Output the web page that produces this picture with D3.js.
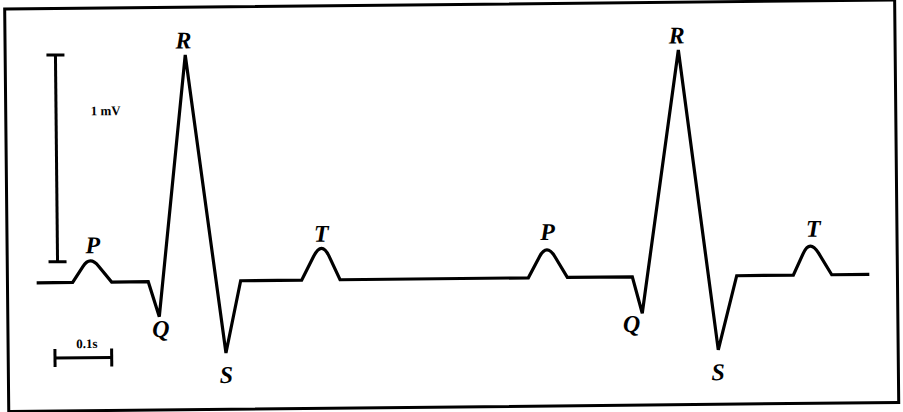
<!DOCTYPE html>
<html>
<head>
<meta charset="utf-8">
<script src="https://cdn.jsdelivr.net/npm/d3@7"></script>
<style>
  html, body { margin: 0; padding: 0; background: #fff; }
  svg { display: block; }
  .wave-label { font-family: "Liberation Serif", "Times New Roman", serif; font-weight: bold; font-style: italic; font-size: 24px; }
  .scale-label { font-family: "Liberation Serif", "Times New Roman", serif; font-weight: bold; font-size: 13px; }
</style>
</head>
<body>
<div id="chart"></div>
<script>
// ------------------------------------------------------------
//  Data (time in s, potential in mV)
// ------------------------------------------------------------

// sharp corners of the trace
const knotTime = [0, 0.0635, 0.1323, 0.1968, 0.2157, 0.2661, 0.3326, 0.3598, 0.4674, 0.5351,
                  0.8672, 0.9360, 1.0506, 1.0675, 1.1358, 1.2009, 1.2347, 1.3346, 1.4023, 1.4686];
const knotMv   = [0, 0, 0, 0, -0.170, 1.095, -0.349, 0, 0, 0,
                  0, 0, 0, -0.177, 1.095, -0.358, 0, 0, 0, 0];

// rounded P / T humps
const humpStart = [0.0635, 0.4674, 0.8672, 1.3346];
const humpPeak  = [0.0945, 0.5034, 0.9002, 1.3644];
const humpEnd   = [0.1323, 0.5351, 0.9360, 1.4023];
const humpMv    = [0.103, 0.153, 0.134, 0.140];

// wave letters
const labelText = ['P', 'Q', 'R', 'S', 'T', 'P', 'Q', 'R', 'S', 'T'];
const labelTime = [0.0998, 0.218, 0.263, 0.333, 0.503, 0.902, 1.0485, 1.133, 1.200, 1.3706];
const labelMv   = [0.141, -0.268, 1.127, -0.494, 0.185, 0.182, -0.267, 1.127, -0.504, 0.185];

// calibration bars
const voltBar = { time: 0.0372, from: 0.101, to: 1.101, text: '1 mV', textTime: 0.1249, textMv: 0.808 };
const timeBar = { mv: -0.365, from: 0.031, to: 0.131, text: '0.1s', textTime: 0.0873, textMv: -0.318 };

// ------------------------------------------------------------
//  Drawing
// ------------------------------------------------------------

const width = 903, height = 412;
const tilt = -0.58; // the scanned figure sits slightly rotated

const svg = d3.select('#chart').append('svg')
  .attr('width', width)
  .attr('height', height);

const g = svg.append('g').attr('transform', `rotate(${tilt},452,206)`);

const x = d3.scaleLinear().domain([0, 1.5]).range([35.9, 886.4]);
const y = d3.scaleLinear().domain([0, 1]).range([278.6, 71.9]);

// frame
g.append('rect')
  .attr('x', 6.7).attr('y', 4.5)
  .attr('width', 890).attr('height', 402.5)
  .attr('fill', 'none')
  .attr('stroke', '#000')
  .attr('stroke-width', 3);

// trace
const shoulder = 0.6;
const p = d3.path();
p.moveTo(x(knotTime[0]), y(knotMv[0]));
for (let i = 1; i < knotTime.length; i++) {
  const j = humpStart.indexOf(knotTime[i - 1]);
  if (j < 0) {
    p.lineTo(x(knotTime[i]), y(knotMv[i]));
    continue;
  }
  const x0 = x(humpStart[j]), x1 = x(humpEnd[j]), y0 = y(0);
  const apexX = x(humpPeak[j]);
  const apexY = y(2 * humpMv[j] / (1 + shoulder));
  p.lineTo(x0 + shoulder * (apexX - x0), y0 + shoulder * (apexY - y0));
  p.quadraticCurveTo(apexX, apexY, x1 + shoulder * (apexX - x1), y0 + shoulder * (apexY - y0));
  p.lineTo(x1, y0);
  if (knotTime[i] !== humpEnd[j]) p.lineTo(x(knotTime[i]), y(knotMv[i]));
}

g.append('path')
  .attr('d', p.toString())
  .attr('fill', 'none')
  .attr('stroke', '#000')
  .attr('stroke-width', 3.2);

// letters
g.selectAll('.wave-label')
  .data(labelText)
  .join('text')
  .attr('class', 'wave-label')
  .attr('x', (d, i) => x(labelTime[i]))
  .attr('y', (d, i) => y(labelMv[i]))
  .attr('text-anchor', 'middle')
  .text(d => d);

// 1 mV bar
const vx = x(voltBar.time);
const cap = 9;
const bars = g.append('g').attr('stroke', '#000').attr('stroke-width', 3);
bars.append('line').attr('x1', vx).attr('x2', vx).attr('y1', y(voltBar.from)).attr('y2', y(voltBar.to));
bars.append('line').attr('x1', vx - cap).attr('x2', vx + cap).attr('y1', y(voltBar.from)).attr('y2', y(voltBar.from));
bars.append('line').attr('x1', vx - cap).attr('x2', vx + cap).attr('y1', y(voltBar.to)).attr('y2', y(voltBar.to));

// 0.1 s bar
const ty = y(timeBar.mv);
bars.append('line').attr('x1', x(timeBar.from)).attr('x2', x(timeBar.to)).attr('y1', ty).attr('y2', ty);
bars.append('line').attr('x1', x(timeBar.from)).attr('x2', x(timeBar.from)).attr('y1', ty - cap).attr('y2', ty + cap);
bars.append('line').attr('x1', x(timeBar.to)).attr('x2', x(timeBar.to)).attr('y1', ty - cap).attr('y2', ty + cap);

g.append('text')
  .attr('class', 'scale-label')
  .attr('x', x(voltBar.textTime)).attr('y', y(voltBar.textMv))
  .attr('text-anchor', 'middle')
  .text(voltBar.text);

g.append('text')
  .attr('class', 'scale-label')
  .attr('x', x(timeBar.textTime)).attr('y', y(timeBar.textMv))
  .attr('text-anchor', 'middle')
  .text(timeBar.text);
</script>
</body>
</html>
